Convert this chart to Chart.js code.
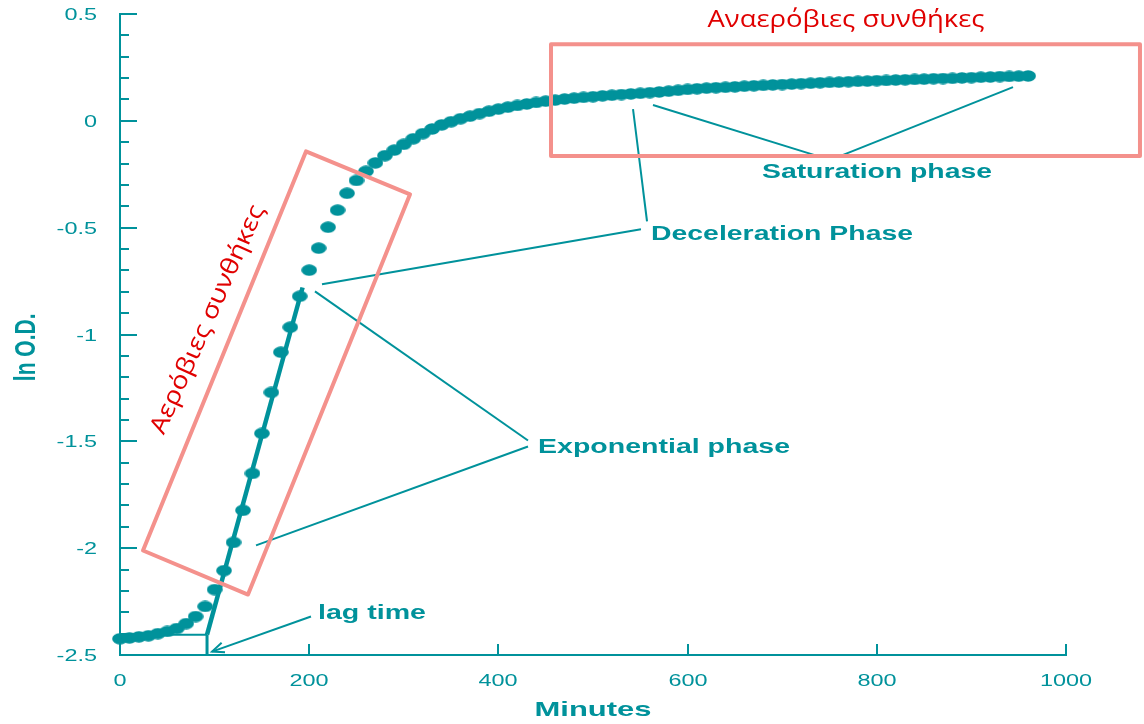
<!DOCTYPE html>
<html>
<head>
<meta charset="utf-8">
<script src="https://cdn.jsdelivr.net/npm/chart.js@4"></script>
<style>
  html, body { margin: 0; padding: 0; background: #fff; }
</style>
</head>
<body>
<canvas id="growthChart" width="1144" height="724"></canvas>
<script>
// Bacterial growth curve: ln O.D. vs minutes
const minutes = [
  0, 10, 20, 30, 40, 50, 60, 70, 80, 90,
  100, 110, 120, 130, 140, 150, 160, 170, 180, 190,
  200, 210, 220, 230, 240, 250, 260, 270, 280, 290,
  300, 310, 320, 330, 340, 350, 360, 370, 380, 390,
  400, 410, 420, 430, 440, 450, 460, 470, 480, 490,
  500, 510, 520, 530, 540, 550, 560, 570, 580, 590,
  600, 610, 620, 630, 640, 650, 660, 670, 680, 690,
  700, 710, 720, 730, 740, 750, 760, 770, 780, 790,
  800, 810, 820, 830, 840, 850, 860, 870, 880, 890,
  900, 910, 920, 930, 940, 950, 960
];
const lnOD = [
  -2.424, -2.420, -2.415, -2.410, -2.400, -2.390, -2.376, -2.353, -2.320, -2.273,
  -2.194, -2.105, -1.973, -1.823, -1.650, -1.463, -1.271, -1.083, -0.966, -0.821,
  -0.699, -0.596, -0.498, -0.418, -0.339, -0.279, -0.236, -0.197, -0.163, -0.137,
  -0.110, -0.084, -0.060, -0.038, -0.019, -0.004, 0.010, 0.022, 0.034, 0.045,
  0.055, 0.064, 0.072, 0.079, 0.086, 0.092, 0.097, 0.102, 0.106, 0.110,
  0.113, 0.117, 0.120, 0.123, 0.126, 0.129, 0.132, 0.135, 0.139, 0.143,
  0.147, 0.150, 0.153, 0.155, 0.157, 0.159, 0.162, 0.164, 0.166, 0.168,
  0.170, 0.172, 0.174, 0.176, 0.178, 0.180, 0.181, 0.183, 0.185, 0.186,
  0.188, 0.189, 0.191, 0.192, 0.194, 0.195, 0.197, 0.198, 0.199, 0.201,
  0.202, 0.204, 0.205, 0.207, 0.208, 0.209, 0.210
];

// exponential fit line and lag-time construction
const fitMinutes = [92, 193];
const fitLnOD = [-2.405, -0.78];
const lagMinutes = [0, 92];
const lagLnOD = [-2.405, -2.405];
const lagDropMinutes = [92, 92];
const lagDropLnOD = [-2.405, -2.5];

// axis ticks
const xMajorTicks = [0, 200, 400, 600, 800, 1000];
const yMajorTicks = [0.5, 0, -0.5, -1, -1.5, -2, -2.5];

const TEAL = '#00929b';
const RED = '#e00000';
const PINK = '#f4918c';

function pairs(xs, ys) {
  return xs.map((x, i) => ({ x: x, y: ys[i] }));
}

// points in the source are slightly wider than tall
const dot = document.createElement('canvas');
dot.width = 16;
dot.height = 12;
(function() {
  const c = dot.getContext('2d');
  c.fillStyle = TEAL;
  c.beginPath();
  c.ellipse(8, 6, 7.8, 5.8, 0, 0, Math.PI * 2);
  c.fill();
})();

function drawText(ctx, str, x, y, opt) {
  ctx.save();
  ctx.translate(x, y);
  if (opt.angle) ctx.rotate(opt.angle);
  ctx.font = opt.font;
  let sx = opt.sx || 1;
  if (opt.width) sx = opt.width / ctx.measureText(str).width;
  ctx.scale(sx, opt.sy || 1);
  ctx.fillStyle = opt.color;
  ctx.textAlign = opt.align || 'center';
  ctx.textBaseline = 'middle';
  ctx.fillText(str, 0, 0);
  ctx.restore();
}

const overlay = {
  id: 'overlay',
  afterDraw(chart) {
    const ctx = chart.ctx;
    const xs = chart.scales.x, ys = chart.scales.y;
    const px = v => xs.getPixelForValue(v);
    const py = v => ys.getPixelForValue(v);
    const tickFont = '17px "Liberation Sans", Arial, sans-serif';
    const boldFont = 'bold 20px "Liberation Sans", Arial, sans-serif';

    ctx.save();
    ctx.strokeStyle = TEAL;
    ctx.lineWidth = 2;

    // y ticks point inward, every 0.1
    ys.ticks.forEach(t => {
      const y = Math.round(py(t.value));
      const major = yMajorTicks.some(m => Math.abs(m - t.value) < 1e-6);
      ctx.beginPath();
      ctx.moveTo(xs.left, y);
      ctx.lineTo(xs.left + (major ? 17 : 9), y);
      ctx.stroke();
      if (major) {
        const label = String(Math.round(t.value * 10) / 10);
        drawText(ctx, label, xs.left - 23, y + 1, { font: tickFont, color: TEAL, sx: 1.38, align: 'right' });
      }
    });

    // x ticks point up
    xMajorTicks.forEach(v => {
      const x = Math.round(px(v));
      if (v > 0) {
        ctx.beginPath();
        ctx.moveTo(x, ys.bottom);
        ctx.lineTo(x, ys.bottom - 11);
        ctx.stroke();
      }
      drawText(ctx, String(v), x, ys.bottom + 26, { font: tickFont, color: TEAL, sx: 1.38 });
    });

    // axis titles
    drawText(ctx, 'Minutes', px(500), ys.bottom + 55, { font: 'bold 21px "Liberation Sans", Arial, sans-serif', color: TEAL, width: 117 });
    drawText(ctx, 'ln O.D.', 27, py(-1.06), { font: 'bold 21px "Liberation Sans", Arial, sans-serif', color: TEAL, angle: -Math.PI / 2, sy: 1.4 });

    // leader lines
    const leaders = [
      [201.9, -2.320, 97.3, -2.484],
      [431.3, -1.496, 206.1, -0.798],
      [431.3, -1.524, 143.8, -1.987],
      [550.7, -0.507, 213.5, -0.765],
      [557.1, -0.470, 542.3, 0.055],
      [563.4, 0.074, 737.8, -0.165],
      [944.0, 0.158, 761.1, -0.165]
    ];
    ctx.lineWidth = 2;
    leaders.forEach(l => {
      ctx.beginPath();
      ctx.moveTo(px(l[0]), py(l[1]));
      ctx.lineTo(px(l[2]), py(l[3]));
      ctx.stroke();
    });

    // arrow head on the lag time leader
    const a = leaders[0];
    const ex = px(a[2]), ey = py(a[3]);
    const ang = Math.atan2(ey - py(a[1]), ex - px(a[0]));
    ctx.beginPath();
    ctx.moveTo(ex - 13 * Math.cos(ang - 0.4), ey - 13 * Math.sin(ang - 0.4));
    ctx.lineTo(ex, ey);
    ctx.lineTo(ex - 13 * Math.cos(ang + 0.4), ey - 13 * Math.sin(ang + 0.4));
    ctx.stroke();

    // phase labels
    drawText(ctx, 'lag time', px(266.4), py(-2.306), { font: boldFont, color: TEAL, width: 108 });
    drawText(ctx, 'Exponential phase', px(575.1), py(-1.528), { font: boldFont, color: TEAL, width: 252 });
    drawText(ctx, 'Deceleration Phase', px(699.8), py(-0.530), { font: boldFont, color: TEAL, width: 262 });
    drawText(ctx, 'Saturation phase', px(800.2), py(-0.240), { font: boldFont, color: TEAL, width: 230 });

    // pink boxes
    ctx.strokeStyle = PINK;
    ctx.lineWidth = 4;
    ctx.lineJoin = 'round';
    ctx.beginPath();
    const x0 = px(455.6), y0 = py(0.359), x1 = px(1078.2), y1 = py(-0.165);
    ctx.rect(x0, y0, x1 - x0, y1 - y0);
    ctx.stroke();

    const poly = [[196.6, -0.143], [306.6, -0.344], [135.3, -2.217], [24.3, -2.011]];
    ctx.beginPath();
    poly.forEach((p, i) => {
      if (i === 0) ctx.moveTo(px(p[0]), py(p[1]));
      else ctx.lineTo(px(p[0]), py(p[1]));
    });
    ctx.closePath();
    ctx.stroke();

    // greek labels
    const greekFont = '24px "Open Sans", "Noto Sans", sans-serif';
    drawText(ctx, 'Αναερόβιες συνθήκες', px(767.4), py(0.472), { font: greekFont, color: RED, width: 277 });
    drawText(ctx, 'Αερόβιες συνθήκες', px(93), py(-0.93), { font: greekFont, color: RED, width: 248, angle: -66 * Math.PI / 180 });

    ctx.restore();
  }
};

const ctx = document.getElementById('growthChart').getContext('2d');

new Chart(ctx, {
  type: 'scatter',
  data: {
    datasets: [
      {
        label: 'fit',
        data: pairs(fitMinutes, fitLnOD),
        showLine: true,
        borderColor: TEAL,
        borderWidth: 4.5,
        pointRadius: 0,
        order: 0
      },
      {
        label: 'lag',
        data: pairs(lagMinutes, lagLnOD),
        showLine: true,
        borderColor: TEAL,
        borderWidth: 2,
        pointRadius: 0,
        order: 1
      },
      {
        label: 'lagDrop',
        data: pairs(lagDropMinutes, lagDropLnOD),
        showLine: true,
        borderColor: TEAL,
        borderWidth: 3,
        pointRadius: 0,
        order: 2
      },
      {
        label: 'ln O.D.',
        data: pairs(minutes, lnOD),
        pointStyle: dot,
        pointRadius: 8,
        clip: false,
        order: 3
      }
    ]
  },
  options: {
    responsive: false,
    animation: false,
    layout: { padding: { left: 0, top: 14, right: 78, bottom: 0 } },
    plugins: {
      legend: { display: false },
      tooltip: { enabled: false }
    },
    scales: {
      x: {
        type: 'linear',
        min: 0,
        max: 1000,
        ticks: { stepSize: 200, display: false },
        grid: { display: false, drawTicks: false },
        border: { display: true, color: TEAL, width: 2 },
        afterFit: scale => { scale.height = 69; }
      },
      y: {
        type: 'linear',
        min: -2.5,
        max: 0.5,
        ticks: { stepSize: 0.1, display: false },
        grid: { display: false, drawTicks: false },
        border: { display: true, color: TEAL, width: 2 },
        afterFit: scale => { scale.width = 120; }
      }
    }
  },
  plugins: [overlay]
});
</script>
</body>
</html>
